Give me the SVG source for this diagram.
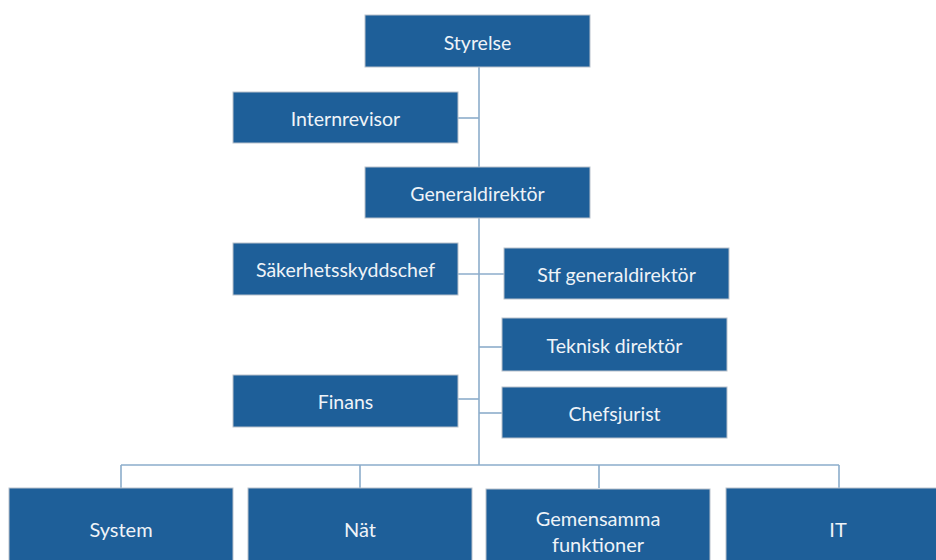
<svg xmlns="http://www.w3.org/2000/svg" width="936" height="560" viewBox="0 0 936 560">
<style>
.box{fill:#1e5f99;stroke:#b9c2cc;stroke-width:1}
.t{font-family:Lato,"Open Sans","Liberation Sans",sans-serif;font-size:19.5px;fill:#eef3f8;text-anchor:middle;dominant-baseline:central}
.b{font-size:20px}
.c{fill:none;stroke:#8cadcb;stroke-width:1.6}
</style>
<rect width="936" height="560" fill="#ffffff"/>
<g id="connectors">
<path class="c" d="M479 67V465"/>
<path class="c" d="M458 118H479"/>
<path class="c" d="M458 274H504"/>
<path class="c" d="M479 347H502"/>
<path class="c" d="M458 399H479"/>
<path class="c" d="M479 413H502"/>
<path class="c" d="M121 465H839M121 465V488M360 465V488M599 465V488M839 465V488"/>
</g>
<g id="styrelse"><rect class="box" x="365" y="15" width="225" height="52"/><text class="t" x="477.5" y="42">Styrelse</text></g>
<g id="internrevisor"><rect class="box" x="233" y="92" width="225" height="51"/><text class="t" x="345.5" y="118">Internrevisor</text></g>
<g id="generaldirektor"><rect class="box" x="365" y="167" width="225" height="51"/><text class="t" x="477.5" y="193">Generaldirektör</text></g>
<g id="sakerhetsskyddschef"><rect class="box" x="233" y="243" width="225" height="52"/><text class="t" x="345.5" y="269">Säkerhetsskyddschef</text></g>
<g id="stf-generaldirektor"><rect class="box" x="504" y="248" width="225" height="51"/><text class="t" x="616.5" y="274">Stf generaldirektör</text></g>
<g id="teknisk-direktor"><rect class="box" x="502" y="318" width="225" height="53"/><text class="t" x="614.5" y="345">Teknisk direktör</text></g>
<g id="finans"><rect class="box" x="233" y="375" width="225" height="52"/><text class="t" x="345.5" y="401">Finans</text></g>
<g id="chefsjurist"><rect class="box" x="502" y="387" width="225" height="51"/><text class="t" x="614.5" y="413">Chefsjurist</text></g>
<g id="system"><rect class="box" x="9" y="488" width="224" height="80"/><text class="t b" x="121" y="529">System</text></g>
<g id="nat"><rect class="box" x="248" y="488" width="224" height="80"/><text class="t b" x="360" y="529">Nät</text></g>
<g id="gemensamma-funktioner"><rect class="box" x="486" y="489" width="224" height="80"/><text class="t b" x="598" y="518">Gemensamma</text><text class="t b" x="598" y="544">funktioner</text></g>
<g id="it"><rect class="box" x="726" y="488" width="224" height="80"/><text class="t b" x="838" y="529">IT</text></g>
</svg>
